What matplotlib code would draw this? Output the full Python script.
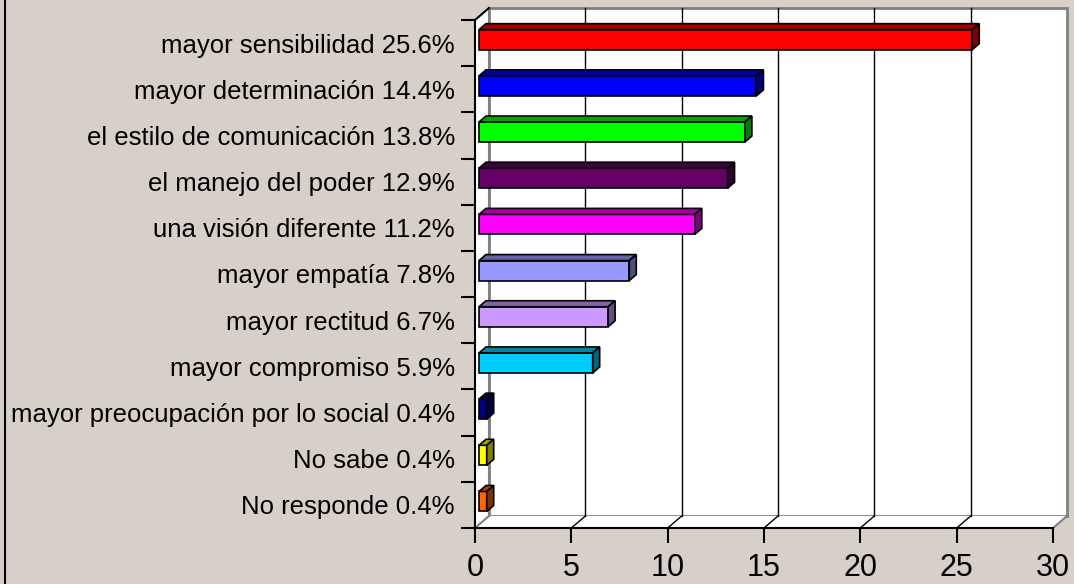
import numpy as np
import matplotlib
matplotlib.use("Agg")
from matplotlib import pyplot as plt
from matplotlib.patches import Polygon

labels = ["mayor sensibilidad 25.6%", "mayor determinación 14.4%",
          "el estilo de comunicación 13.8%", "el manejo del poder 12.9%",
          "una visión diferente 11.2%", "mayor empatía 7.8%",
          "mayor rectitud 6.7%", "mayor compromiso 5.9%",
          "mayor preocupación por lo social 0.4%", "No sabe 0.4%",
          "No responde 0.4%"]
values = [25.6, 14.4, 13.8, 12.9, 11.2, 7.8, 6.7, 5.9, 0.4, 0.4, 0.4]
colors = ["#FF0000", "#0000FF", "#00FF00", "#660066", "#FF00FF", "#9999FF",
          "#CC99FF", "#00CCFF", "#000080", "#FFFF00", "#FF6600"]
xticks = [0, 5, 10, 15, 20, 25, 30]

plt.rcParams['font.family'] = ['Liberation Sans', 'DejaVu Sans']

W, H = 1074, 584
fig = plt.figure(figsize=(W / 100, H / 100), dpi=100)
fig.patch.set_facecolor("#D6D0C8")

# front plane of the plot in pixels
x0px, x1px, ytop, ybot = 475, 1053, 20, 528
ax = fig.add_axes([x0px / W, 1 - ybot / H, (x1px - x0px) / W, (ybot - ytop) / H])
ax.set_xlim(0, 30)
ax.set_ylim(len(labels), 0)
ax.set_facecolor("none")
for s in ax.spines.values():
    s.set_visible(False)

n = len(labels)
sx = (x1px - x0px) / 30.0
sy = (ybot - ytop) / n
DX = 14 / sx      # depth offset, x
DY = -12 / sy     # depth offset, y (inverted axis)

gray = "#808080"
kw = dict(clip_on=False)

# walls
ax.add_patch(Polygon([(DX, DY), (30 + DX, DY), (30 + DX, n + DY), (DX, n + DY)],
                     closed=True, fc="white", ec=gray, lw=2, zorder=0, **kw))
ax.add_patch(Polygon([(0, 0), (DX, DY), (DX, n + DY), (0, n)],
                     closed=True, fc="white", ec="none", zorder=0, **kw))
ax.add_patch(Polygon([(0, n), (30, n), (30 + DX, n + DY), (DX, n + DY)],
                     closed=True, fc="white", ec="none", zorder=0, **kw))
ax.plot([DX, DX], [DY, n + DY], color=gray, lw=1.5, zorder=1, **kw)
ax.plot([0, DX], [n, n + DY], color=gray, lw=1.5, zorder=1, **kw)
ax.plot([30, 30 + DX], [n, n + DY], color=gray, lw=1.5, zorder=1, **kw)

# gridlines on back wall and floor
for t in xticks[1:-1]:
    ax.plot([t + DX, t + DX], [DY, n + DY], color="black", lw=1, zorder=1, **kw)
    ax.plot([t, t + DX], [n, n + DY], color="black", lw=1, zorder=1, **kw)

# axis lines
ax.plot([0, 0], [0, n], color="black", lw=1.5, zorder=5, **kw)
ax.plot([0, DX], [0, DY], color="black", lw=1.5, zorder=5, **kw)
ax.plot([0, 30], [n, n], color="black", lw=1.5, zorder=5, **kw)

# 3D bars
f1, f2 = 4 / 14, 11 / 14
h = 20 / sy
centers = np.arange(n) + 0.5
ax.barh(centers + f1 * DY, values, height=h, left=f1 * DX, color=colors,
        edgecolor="black", linewidth=1.2, zorder=3)
for c, v, col in zip(centers, values, colors):
    rgb = np.array(matplotlib.colors.to_rgb(col))
    yt, yb = c - h / 2, c + h / 2
    x_end = v + f1 * DX
    top = [(f1 * DX, yt + f1 * DY), (x_end, yt + f1 * DY),
           (v + f2 * DX, yt + f2 * DY), (f2 * DX, yt + f2 * DY)]
    side = [(x_end, yt + f1 * DY), (v + f2 * DX, yt + f2 * DY),
            (v + f2 * DX, yb + f2 * DY), (x_end, yb + f1 * DY)]
    ax.add_patch(Polygon(top, closed=True, fc=rgb * 0.65, ec="black", lw=1.2, zorder=3))
    ax.add_patch(Polygon(side, closed=True, fc=rgb * 0.5, ec="black", lw=1.2, zorder=3))

# ticks and labels
ax.set_xticks(xticks)
ax.set_xticklabels([str(t) for t in xticks])
ax.tick_params(axis="x", direction="out", length=11, width=1.5, pad=7,
               labelsize=22, colors="black")
ax.set_yticks(np.arange(n + 1))
ax.set_yticklabels([])
ax.set_yticks(centers, minor=True)
ax.set_yticklabels(labels, minor=True)
ax.tick_params(axis="y", which="major", direction="out", length=10, width=1.5)
ax.tick_params(axis="y", which="minor", length=0, pad=14.5, labelsize=18.5)

# outer border on the left
fig.add_artist(plt.Line2D([5 / W, 5 / W], [0, 1], color="black", lw=1.5))

fig.savefig("out.png", dpi=100, facecolor=fig.get_facecolor())
